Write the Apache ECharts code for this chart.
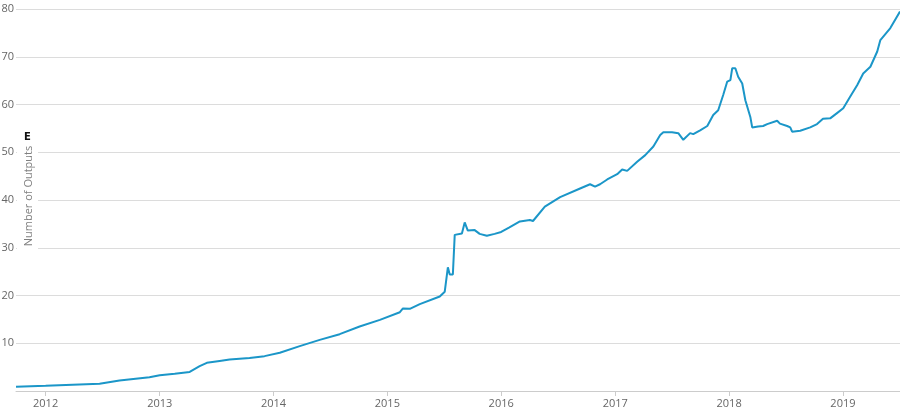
<!DOCTYPE html>
<html>
<head>
<meta charset="utf-8">
<script src="https://cdn.jsdelivr.net/npm/echarts@6/dist/echarts.min.js"></script>
<style>html,body{margin:0;padding:0;background:#fff}#c{width:900px;height:413px}</style>
</head>
<body>
<div id="c"></div>
<script>
const dates = ['2011-09-28','2012-01-01','2012-06-22','2012-08-25','2012-11-29','2013-01-01','2013-02-18','2013-04-07','2013-05-09','2013-06-01','2013-07-12','2013-08-13','2013-10-16','2013-12-03','2014-01-21','2014-03-26','2014-05-29','2014-08-01','2014-10-04','2014-12-08','2015-02-10','2015-02-20','2015-03-14','2015-04-15','2015-06-18','2015-07-04','2015-07-14','2015-07-20','2015-07-30','2015-08-05','2015-08-28','2015-09-06','2015-09-16','2015-10-08','2015-10-24','2015-11-16','2015-12-11','2016-01-01','2016-01-26','2016-03-01','2016-04-02','2016-04-12','2016-05-20','2016-07-08','2016-09-10','2016-10-12','2016-10-28','2016-11-13','2016-12-06','2017-01-07','2017-01-23','2017-02-08','2017-03-12','2017-04-07','2017-05-03','2017-05-25','2017-06-04','2017-07-02','2017-07-22','2017-08-07','2017-08-29','2017-09-08','2017-09-30','2017-10-23','2017-11-11','2017-11-27','2017-12-13','2017-12-26','2018-01-05','2018-01-11','2018-01-21','2018-01-30','2018-02-12','2018-02-22','2018-03-10','2018-03-16','2018-04-04','2018-04-20','2018-05-03','2018-06-04','2018-06-13','2018-07-06','2018-07-16','2018-07-22','2018-08-17','2018-09-18','2018-10-10','2018-10-29','2018-11-21','2018-12-13','2019-01-02','2019-01-24','2019-02-16','2019-03-07','2019-03-30','2019-04-21','2019-05-01','2019-06-02','2019-07-03'];
const outputs = [0.9,1.1,1.5,2.2,2.9,3.3,3.6,4.0,5.2,5.9,6.3,6.6,6.9,7.3,8.0,9.4,10.7,11.9,13.5,14.9,16.5,17.3,17.2,18.2,19.8,20.8,25.9,24.4,24.4,32.7,33.0,35.3,33.6,33.7,32.9,32.5,32.9,33.3,34.2,35.5,35.8,35.6,38.6,40.6,42.4,43.3,42.8,43.3,44.3,45.4,46.4,46.1,48.0,49.4,51.2,53.6,54.2,54.2,54.0,52.6,54.0,53.8,54.6,55.5,57.8,58.8,62.0,64.8,65.1,67.6,67.6,65.8,64.4,60.9,57.4,55.2,55.4,55.5,55.9,56.6,56.0,55.5,55.2,54.3,54.5,55.2,55.9,57.0,57.1,58.2,59.2,61.6,64.1,66.5,67.9,71.1,73.5,76.0,79.5];
const yearTicks = [2012,2013,2014,2015,2016,2017,2018,2019];
const yTicks = [0,10,20,30,40,50,60,70,80];
const yTitle = 'Number of Outputs';

const ts = d => Date.parse(d + 'T00:00:00Z');
const yearTs = yearTicks.map(y => Date.UTC(y,0,1));
const chart = echarts.init(document.getElementById('c'), null, {renderer:'canvas'});
chart.setOption({
  animation:false,
  grid:{left:16,right:0,top:9,bottom:22,containLabel:false,outerBoundsMode:'none'},
  xAxis:{
    type:'value',
    min:ts(dates[0]), max:ts(dates[dates.length-1]),
    axisLine:{lineStyle:{color:'#ccc'}},
    axisTick:{show:true,length:5,lineStyle:{color:'#ccc'},customValues:yearTs},
    axisLabel:{customValues:yearTs,formatter:v=>String(new Date(v).getUTCFullYear()),
      color:'#666',fontFamily:'Open Sans',fontSize:11,margin:7},
    splitLine:{show:false}
  },
  yAxis:{
    type:'value', min:yTicks[0], max:yTicks[yTicks.length-1], interval:10,
    axisLine:{show:false}, axisTick:{show:false},
    axisLabel:{color:'#666',fontFamily:'Open Sans',fontSize:11,margin:2,
      formatter:v=> v===0 ? '' : String(v)},
    splitLine:{lineStyle:{color:'#dcdcdc'}}
  },
  graphic:[
    {type:'rect',shape:{x:17,y:128,width:21,height:122},style:{fill:'#fff'},z:50},
    {type:'text',x:29,y:196,rotation:Math.PI/2,z:51,
      style:{text:yTitle,align:'center',verticalAlign:'middle',fill:'#808080',font:'11px "Open Sans"'}},
    {type:'text',left:24,top:132,z:52,style:{text:'E',fill:'#111',font:'bold 10px "DejaVu Sans"'}}
  ],
  series:[{
    type:'line', showSymbol:false, smooth:false,
    data:dates.map((d,i)=>[ts(d),outputs[i]]),
    lineStyle:{color:'#1b96c8',width:2},
    itemStyle:{color:'#1b96c8'}
  }]
});
</script>
</body>
</html>
